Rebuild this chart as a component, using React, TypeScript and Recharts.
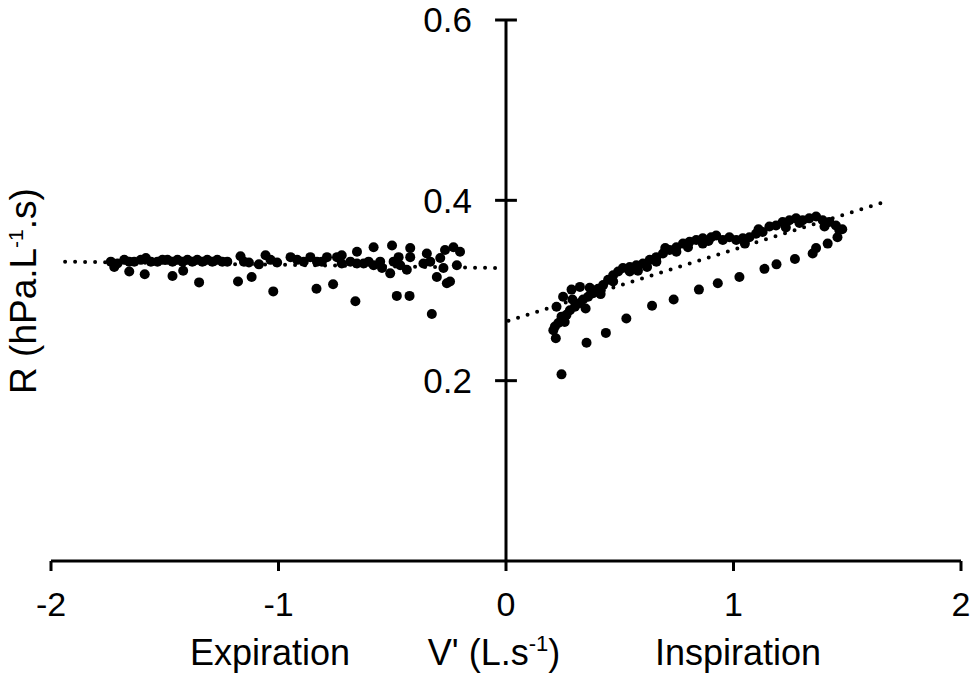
import React from 'react';
import { ScatterChart, Scatter, XAxis, YAxis, ReferenceLine, ReferenceDot } from 'recharts';

const FONT = '"Liberation Sans", Arial, Helvetica, sans-serif';

const xTicks = [-2, -1, 0, 1, 2];
const yTicks = [0.2, 0.4, 0.6];

// expiration (negative flow)
const expiration = [
  [-1.737, 0.332], [-1.722, 0.326], [-1.708, 0.33], [-1.678, 0.334], [-1.656, 0.332], [-1.656, 0.321],
  [-1.634, 0.332], [-1.605, 0.334], [-1.583, 0.336], [-1.561, 0.332], [-1.532, 0.332], [-1.51, 0.334],
  [-1.488, 0.334], [-1.466, 0.332], [-1.444, 0.334], [-1.422, 0.332], [-1.4, 0.334], [-1.379, 0.332],
  [-1.357, 0.334], [-1.335, 0.332], [-1.313, 0.334], [-1.291, 0.332], [-1.269, 0.334], [-1.247, 0.332],
  [-1.225, 0.332], [-1.588, 0.318], [-1.466, 0.316], [-1.419, 0.322], [-1.349, 0.309], [-1.178, 0.31],
  [-1.118, 0.315], [-1.023, 0.299], [-1.167, 0.338], [-1.152, 0.332], [-1.13, 0.331], [-1.086, 0.329],
  [-1.057, 0.339], [-1.035, 0.334], [-1.006, 0.331], [-0.947, 0.337], [-0.918, 0.334], [-0.889, 0.332],
  [-0.86, 0.337], [-0.831, 0.332], [-0.809, 0.332], [-0.787, 0.337], [-0.743, 0.337], [-0.722, 0.339],
  [-0.722, 0.33], [-0.684, 0.332], [-0.655, 0.343], [-0.655, 0.33], [-0.626, 0.33], [-0.604, 0.332],
  [-0.582, 0.348], [-0.582, 0.328], [-0.553, 0.332], [-0.545, 0.325], [-0.509, 0.319], [-0.501, 0.35],
  [-0.494, 0.332], [-0.472, 0.337], [-0.465, 0.328], [-0.436, 0.323], [-0.421, 0.347], [-0.421, 0.337],
  [-0.363, 0.33], [-0.348, 0.341], [-0.333, 0.332], [-0.304, 0.315], [-0.289, 0.336], [-0.275, 0.325],
  [-0.268, 0.345], [-0.26, 0.308], [-0.246, 0.31], [-0.231, 0.348], [-0.216, 0.328], [-0.202, 0.343],
  [-0.833, 0.302], [-0.76, 0.307], [-0.662, 0.288], [-0.48, 0.294], [-0.424, 0.294], [-0.326, 0.274],
].map(([x, y]) => ({ x, y }));

// inspiration (positive flow), upper branch, small loop and return branch
const inspiration = [
  [0.208, 0.256], [0.219, 0.247], [0.23, 0.264], [0.244, 0.271], [0.266, 0.273], [0.281, 0.278],
  [0.303, 0.282], [0.325, 0.286], [0.339, 0.29], [0.361, 0.293], [0.383, 0.297], [0.405, 0.302],
  [0.427, 0.306], [0.449, 0.312], [0.471, 0.317], [0.493, 0.321], [0.514, 0.325], [0.544, 0.326],
  [0.573, 0.328], [0.602, 0.33], [0.632, 0.334], [0.661, 0.337], [0.69, 0.341], [0.719, 0.345],
  [0.749, 0.348], [0.778, 0.352], [0.807, 0.354], [0.836, 0.356], [0.865, 0.358], [0.902, 0.359],
  [0.924, 0.361], [0.953, 0.356], [0.982, 0.359], [1.012, 0.356], [1.041, 0.358], [1.07, 0.359],
  [1.099, 0.363], [1.128, 0.365], [1.158, 0.371], [1.187, 0.372], [1.216, 0.376], [1.246, 0.378],
  [1.275, 0.38], [1.304, 0.378], [1.333, 0.38], [1.363, 0.382], [1.392, 0.378], [1.421, 0.376],
  [1.45, 0.372], [1.465, 0.367], [1.478, 0.368], [1.457, 0.359],
  [0.251, 0.293], [0.288, 0.301], [0.325, 0.304], [0.368, 0.303], [0.222, 0.282],
  [0.471, 0.31], [0.544, 0.321], [0.661, 0.332], [0.749, 0.343], [0.865, 0.352],
  [0.215, 0.26], [0.258, 0.265], [0.292, 0.29], [0.35, 0.28], [0.395, 0.3], [0.416, 0.296],
  [0.58, 0.322], [0.62, 0.326], [0.7, 0.347], [0.8, 0.348], [0.89, 0.355], [1.05, 0.352],
  [1.11, 0.368], [1.23, 0.37], [1.29, 0.375], [1.4, 0.371],
  [1.414, 0.352], [1.363, 0.347], [1.348, 0.341], [1.27, 0.335], [1.189, 0.329], [1.136, 0.324],
  [1.026, 0.315], [0.931, 0.308], [0.848, 0.301], [0.737, 0.29], [0.642, 0.283], [0.529, 0.269],
  [0.439, 0.253], [0.354, 0.242], [0.244, 0.207],
].map(([x, y]) => ({ x, y }));

// fitted lines (end points)
const expirationFit = [{ x: -1.938, y: 0.332 }, { x: -0.047, y: 0.325 }];
const inspirationFit = [{ x: 0.011, y: 0.2665 }, { x: 1.66, y: 0.398 }];

const Dot = (props: any) => <circle cx={props.cx} cy={props.cy} r={5} fill="#000" />;

export default function App() {
  const W = 975;
  const H = 683;
  return (
    <div style={{ position: 'absolute', left: 0, top: 0, width: W, height: H, background: '#fff' }}>
      <ScatterChart width={W} height={H} margin={{ top: 20, right: 14, left: 51, bottom: 72 }}>
        <XAxis
          type="number"
          dataKey="x"
          domain={[-2, 2]}
          ticks={xTicks}
          height={50}
          axisLine={{ stroke: '#000', strokeWidth: 3 }}
          tickLine={{ stroke: '#000', strokeWidth: 3 }}
          tickSize={10}
          tickMargin={21}
          tick={{ fill: '#000', fontSize: 34, fontFamily: FONT }}
          tickFormatter={(v: number) => String(v)}
        />
        <YAxis type="number" dataKey="y" domain={[0, 0.6]} hide width={0} />
        <ReferenceLine x={0} stroke="#000" strokeWidth={3} ifOverflow="visible" />
        {yTicks.map((t) => (
          <ReferenceLine
            key={`yt-${t}`}
            segment={[{ x: -0.048, y: t }, { x: 0.048, y: t }]}
            stroke="#000"
            strokeWidth={3}
            ifOverflow="visible"
          />
        ))}
        {yTicks.map((t) => (
          <ReferenceDot
            key={`yl-${t}`}
            x={0}
            y={t}
            r={0}
            fill="none"
            stroke="none"
            ifOverflow="visible"
            label={{ value: t.toFixed(1), position: 'left', offset: 34, fontSize: 35, fill: '#000', fontFamily: FONT }}
          />
        ))}
        <ReferenceLine
          segment={expirationFit}
          stroke="#000"
          strokeWidth={4}
          strokeDasharray="0 10"
          strokeLinecap="round"
          ifOverflow="visible"
        />
        <ReferenceLine
          segment={inspirationFit}
          stroke="#000"
          strokeWidth={4}
          strokeDasharray="0 10"
          strokeLinecap="round"
          ifOverflow="visible"
        />
        <Scatter data={expiration} shape={Dot} isAnimationActive={false} />
        <Scatter data={inspiration} shape={Dot} isAnimationActive={false} />
      </ScatterChart>
      <svg width={W} height={H} style={{ position: 'absolute', left: 0, top: 0, pointerEvents: 'none' }}>
        <g fontFamily={FONT} fill="#000">
          <text x={270} y={665} fontSize={36} textAnchor="middle">Expiration</text>
          <text x={494} y={665} fontSize={36} textAnchor="middle">
            V' (L.s<tspan fontSize={22} dy={-14}>-1</tspan><tspan dy={14}>)</tspan>
          </text>
          <text x={738} y={665} fontSize={36} textAnchor="middle">Inspiration</text>
          <text transform="translate(36,291) rotate(-90)" fontSize={37} textAnchor="middle">
            R (hPa.L<tspan fontSize={21} dy={-13}>-1</tspan><tspan dy={13}>.s)</tspan>
          </text>
        </g>
      </svg>
    </div>
  );
}
